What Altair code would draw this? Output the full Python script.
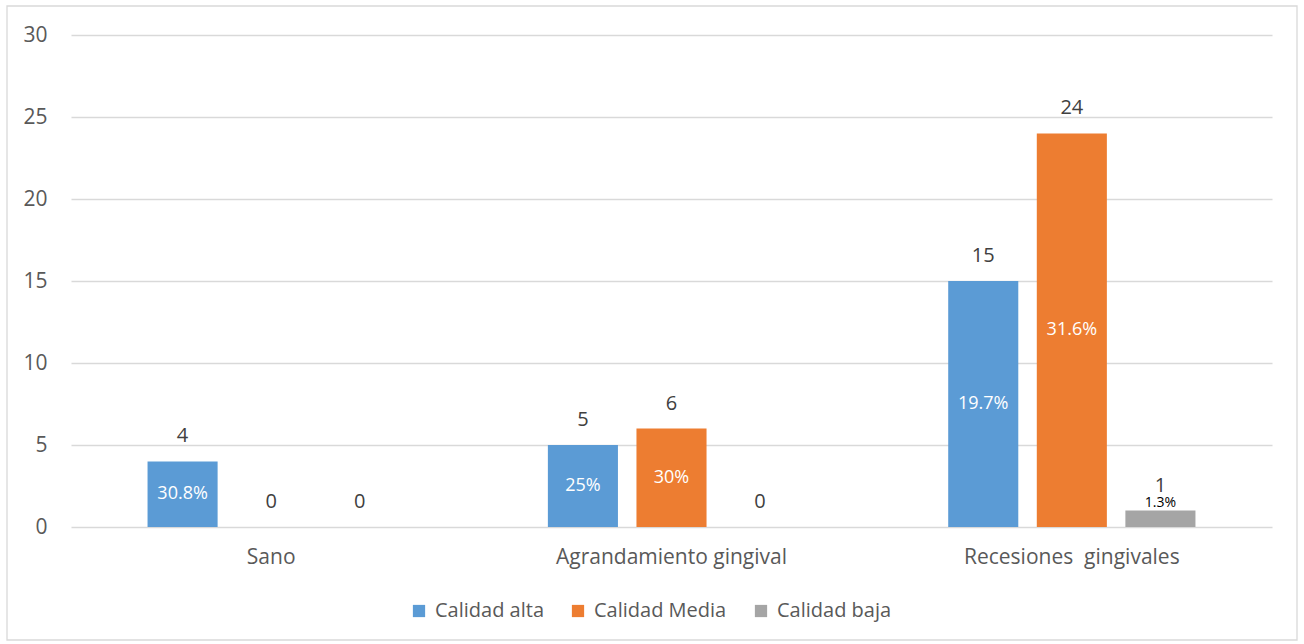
import altair as alt
import pandas as pd

# Data
categories = ["Sano", "Agrandamiento gingival", "Recesiones\u00a0 gingivales"]
series = ["Calidad alta", "Calidad Media", "Calidad baja"]
values = {
    "Calidad alta": [4, 5, 15],
    "Calidad Media": [0, 6, 24],
    "Calidad baja": [0, 0, 1],
}
percents = {
    "Calidad alta": ["30.8%", "25%", "19.7%"],
    "Calidad Media": ["", "30%", "31.6%"],
    "Calidad baja": ["", "", "1.3%"],
}
colors = ["#5B9BD5", "#ED7D31", "#A5A5A5"]

rows = []
for s in series:
    for i, c in enumerate(categories):
        rows.append({"cat": c, "serie": s, "valor": values[s][i], "pct": percents[s][i]})
df = pd.DataFrame(rows)

FONT = "Open Sans"
W, H = 1201, 492

x_enc = alt.X("cat:N", sort=categories, title=None,
              scale=alt.Scale(paddingInner=0, paddingOuter=0),
              axis=alt.Axis(labelFontSize=21, labelColor="#595959", labelFont=FONT,
                            domain=False, ticks=False, labelPadding=19, labelAngle=0,
                            labelLimit=400))
xo_enc = alt.XOffset("serie:N", sort=series,
                     scale=alt.Scale(paddingInner=0.209, paddingOuter=0.864))
y_enc = alt.Y("valor:Q", title=None,
              scale=alt.Scale(domain=[0, 30], nice=False),
              axis=alt.Axis(values=[0, 5, 10, 15, 20, 25, 30], labelFontSize=21,
                            labelColor="#595959", labelFont=FONT, domain=False,
                            ticks=False, labelPadding=24, gridColor="#D9D9D9",
                            gridWidth=1.3))

base = alt.Chart(df)

bars = base.mark_bar().encode(
    x=x_enc, xOffset=xo_enc, y=y_enc,
    color=alt.Color("serie:N", sort=series,
                    scale=alt.Scale(domain=series, range=colors),
                    legend=alt.Legend(title=None, orient="none", direction="horizontal",
                                      legendX=338, legendY=566, symbolType="square",
                                      symbolSize=150, symbolStrokeWidth=0,
                                      labelFontSize=20, labelFont=FONT,
                                      labelColor="#595959", columnPadding=24,
                                      labelOffset=6)),
)

value_labels = base.mark_text(fontSize=20, font=FONT, color="#404040",
                              baseline="middle", dy=-25).encode(
    x=alt.X("cat:N", sort=categories), xOffset=alt.XOffset("serie:N", sort=series),
    y="valor:Q", text="valor:Q",
)

pct_inside = base.transform_filter(
    "datum.pct != '' && datum.valor >= 3"
).transform_calculate(mid="datum.valor / 2").mark_text(
    fontSize=18, font=FONT, color="white", baseline="middle"
).encode(
    x=alt.X("cat:N", sort=categories), xOffset=alt.XOffset("serie:N", sort=series),
    y="mid:Q", text="pct:N",
)

pct_outside = base.transform_filter(
    "datum.pct != '' && datum.valor < 3"
).mark_text(fontSize=14, font=FONT, color="#000000", baseline="middle", dy=-8).encode(
    x=alt.X("cat:N", sort=categories), xOffset=alt.XOffset("serie:N", sort=series),
    y="valor:Q", text="pct:N",
)

# Outer frame around the whole chart
frame = alt.Chart(pd.DataFrame({"k": [0]})).mark_rect(
    fill=None, stroke="#D9D9D9", strokeWidth=1.3, clip=False
).encode(
    x=alt.value(-64), x2=alt.value(1226), y=alt.value(-29), y2=alt.value(605)
)

chart = alt.layer(frame, bars, value_labels, pct_inside, pct_outside).properties(
    width=W, height=H,
    autosize=alt.AutoSizeParams(type="none"),
    padding={"left": 71, "top": 35, "right": 32, "bottom": 117},
    background="white",
).configure_view(stroke=None)

chart.save("out.html", embed_options={"renderer": "svg", "actions": False})
